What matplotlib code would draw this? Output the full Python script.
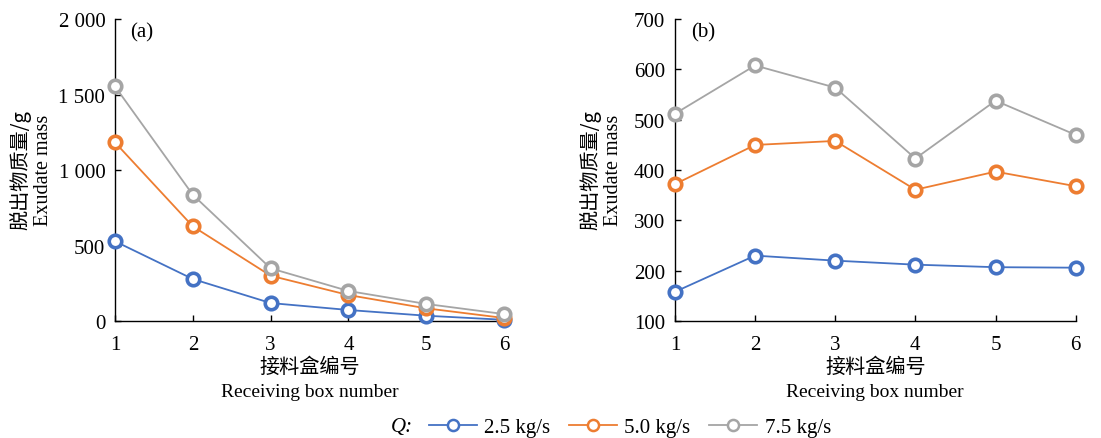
import matplotlib
matplotlib.use("Agg")
import matplotlib.pyplot as plt
from matplotlib.lines import Line2D
from matplotlib.ticker import FuncFormatter

# Data
boxes = [1, 2, 3, 4, 5, 6]
series_names = ["2.5 kg/s", "5.0 kg/s", "7.5 kg/s"]
colors = ["#4472C4", "#ED7D31", "#A5A5A5"]

# panel (a)
a_q25 = [528, 278, 119, 73, 35, 8]
a_q50 = [1183, 627, 300, 172, 84, 20]
a_q75 = [1554, 836, 349, 199, 113, 46]

# panel (b)
b_q25 = [158, 230, 220, 212, 207, 206]
b_q50 = [372, 450, 458, 361, 397, 368]
b_q75 = [512, 608, 564, 423, 538, 470]

SERIF = "Liberation Serif"
CJK = "Noto Sans CJK SC"

plt.rcParams['font.family'] = [SERIF, CJK]

fig = plt.figure(figsize=(11.01, 4.39), dpi=100)
ax_a = fig.add_axes([0.1045, 0.2665, 0.3533, 0.6875])
ax_b = fig.add_axes([0.613, 0.2665, 0.364, 0.6875])


def space_thousands(v, pos):
    s = f"{int(round(v)):,}"
    return s.replace(",", " ")


def draw_panel(ax, data, ylim, yticks, tag):
    for vals, c in zip(data, colors):
        ax.plot(boxes, vals, color=c, lw=1.3, marker='o', ms=9,
                mfc='white', mec=c, mew=2.6, clip_on=False, zorder=3)
    ax.set_xlim(1, 6)
    ax.set_ylim(*ylim)
    ax.set_xticks(boxes)
    ax.set_yticks(yticks)
    ax.yaxis.set_major_formatter(FuncFormatter(space_thousands))
    for side in ["top", "right"]:
        ax.spines[side].set_visible(False)
    for side in ["left", "bottom"]:
        ax.spines[side].set_linewidth(1.0)
    ax.tick_params(direction='in', length=4, width=1.0, labelsize=15)
    ax.tick_params(axis='x', pad=10)
    ax.tick_params(axis='y', pad=7)
    for lbl in ax.get_xticklabels() + ax.get_yticklabels():
        lbl.set_family(SERIF)
    ax.text(0.04, 0.99, tag, transform=ax.transAxes, fontsize=15,
            family=SERIF, va='top', ha='left')
    # axis titles
    ax.text(0.5, -0.149, "接料盒编号", transform=ax.transAxes, fontsize=14.5,
            family=[CJK], ha='center', va='center')
    ax.text(0.5, -0.232, "Receiving box number", transform=ax.transAxes,
            fontsize=14, family=SERIF, ha='center', va='center')


draw_panel(ax_a, [a_q25, a_q50, a_q75], (0, 2000), [0, 500, 1000, 1500, 2000], "(a)")
draw_panel(ax_b, [b_q25, b_q50, b_q75], (100, 700), [100, 200, 300, 400, 500, 600, 700], "(b)")

# y labels (two lines, mixed scripts)
for x_cn, x_en in [(20 / 1101, 44 / 1101), (590 / 1101, 614 / 1101)]:
    fig.text(x_cn, 0.613, "脱出物质量/g", rotation=90, fontsize=14.5,
             family=[CJK, SERIF], ha='center', va='center')
    fig.text(x_en, 0.613, "Exudate mass", rotation=90, fontsize=14.5,
             family=SERIF, ha='center', va='center')

# legend
handles = [Line2D([0], [0], color=c, lw=1.3, marker='o', ms=8, mfc='white',
                  mec=c, mew=1.8) for c in colors]
fig.text(402 / 1101, 1 - 428 / 439, "Q:", fontsize=15, family=SERIF,
         style='italic', ha='center', va='center')
fig.legend(handles, series_names, loc='center', ncol=3,
           bbox_to_anchor=(630 / 1101, 1 - 428 / 439), frameon=False,
           prop={'family': SERIF, 'size': 15}, handlelength=2.3,
           handletextpad=0.35, columnspacing=0.9, borderpad=0)

fig.savefig("out.png", dpi=100)
